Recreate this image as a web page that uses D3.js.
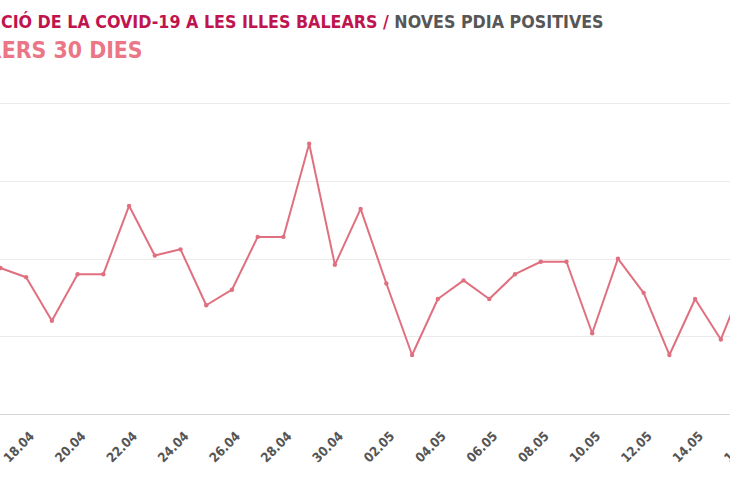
<!DOCTYPE html>
<html>
<head>
<meta charset="utf-8">
<script src="https://cdn.jsdelivr.net/npm/d3@7"></script>
<style>
  html, body { margin: 0; padding: 0; background: #fff; overflow: hidden; }
  svg { display: block; }
</style>
</head>
<body>
<div id="chart"></div>
<script>
// daily new positive PDIA tests, last 30 days
var days = ['17.04','18.04','19.04','20.04','21.04','22.04','23.04','24.04','25.04','26.04',
  '27.04','28.04','29.04','30.04','01.05','02.05','03.05','04.05','05.05','06.05',
  '07.05','08.05','09.05','10.05','11.05','12.05','13.05','14.05','15.05','16.05'];
var positives = [94, 88, 60, 90, 90, 134, 102, 106, 70, 80,
  114, 114, 174, 96, 132, 84, 38, 74, 86, 74,
  90, 98, 98, 52, 100, 78, 38, 74, 48, 89];
var tickDays = ['18.04','20.04','22.04','24.04','26.04','28.04','30.04',
  '02.05','04.05','06.05','08.05','10.05','12.05','14.05','16.05'];
var yTicks = [0, 50, 100, 150, 200];

var titleParts = ['EVOLUCIÓ DE LA COVID-19 A LES ILLES BALEARS / ', 'NOVES PDIA POSITIVES'];
var subtitle = 'DARRERS 30 DIES';

var W = 730, H = 500;
var font = '"DejaVu Sans Condensed", "DejaVu Sans", sans-serif';

var svg = d3.select('#chart').append('svg')
  .attr('width', W)
  .attr('height', H);

var x = d3.scalePoint()
  .domain(days)
  .range([0.4, 0.4 + 25.73 * (days.length - 1)]);

var y = d3.scaleLinear()
  .domain([0, 200])
  .range([414, 103.3]);

// grid
svg.append('g').selectAll('line.grid')
  .data(yTicks)
  .enter()
    .append('line')
      .attr('class', 'grid')
      .attr('x1', -60)
      .attr('x2', W + 60)
      .attr('y1', function(d) { return Math.round(y(d)) + 0.5; })
      .attr('y2', function(d) { return Math.round(y(d)) + 0.5; })
      .attr('stroke', function(d) { return d === 0 ? '#d6d6d6' : '#ebebeb'; })
      .attr('stroke-width', 1);

// x labels
svg.append('g').selectAll('text.xlab')
  .data(tickDays)
  .enter()
    .append('text')
      .attr('class', 'xlab')
      .attr('transform', function(d) {
        return 'translate(' + (x(d) + 9) + ',' + 437 + ') rotate(-45)';
      })
      .attr('text-anchor', 'end')
      .attr('font-family', font)
      .attr('font-weight', 'bold')
      .attr('font-size', 13)
      .attr('fill', '#555')
      .text(function(d) { return d; });

// line
var line = d3.line()
  .x(function(d, i) { return x(days[i]); })
  .y(function(d) { return y(d); });

svg.append('path')
  .datum(positives)
  .attr('d', line)
  .attr('fill', 'none')
  .attr('stroke', '#e0707f')
  .attr('stroke-width', 2)
  .attr('stroke-linejoin', 'round');

svg.append('g').selectAll('circle.pt')
  .data(positives)
  .enter()
    .append('circle')
      .attr('class', 'pt')
      .attr('cx', function(d, i) { return x(days[i]); })
      .attr('cy', function(d) { return y(d); })
      .attr('r', 2.2)
      .attr('fill', '#e0707f');

// titles, shifted so the start is cut off like the reference
function measure(str, size) {
  var t = svg.append('text')
    .attr('font-family', font)
    .attr('font-weight', 'bold')
    .attr('font-size', size)
    .text(str);
  var w = t.node().getComputedTextLength();
  t.remove();
  return w;
}

var full = titleParts[0] + titleParts[1];
var hidden = 'EVOLU';
var tSize = 18.5;
var tScale = 603 / measure(full.slice(hidden.length), tSize);
var tShift = measure(hidden, tSize);

var title = svg.append('text')
  .attr('transform', 'translate(1,28) scale(' + tScale + ',1)')
  .attr('x', -tShift)
  .attr('font-family', font)
  .attr('font-weight', 'bold')
  .attr('font-size', tSize);
title.append('tspan').attr('fill', '#c0144f').text(titleParts[0]);
title.append('tspan').attr('fill', '#575757').text(titleParts[1]);

var subHidden = 'DARR';
var sSize = 22.5;
var sScale = 141 / measure(subtitle.slice(subHidden.length), sSize);
var sShift = measure(subHidden, sSize);

svg.append('text')
  .attr('transform', 'translate(1.7,58) scale(' + sScale + ',1)')
  .attr('x', -sShift)
  .attr('font-family', font)
  .attr('font-weight', 'bold')
  .attr('font-size', sSize)
  .attr('fill', '#ea7686')
  .text(subtitle);
</script>
</body>
</html>
